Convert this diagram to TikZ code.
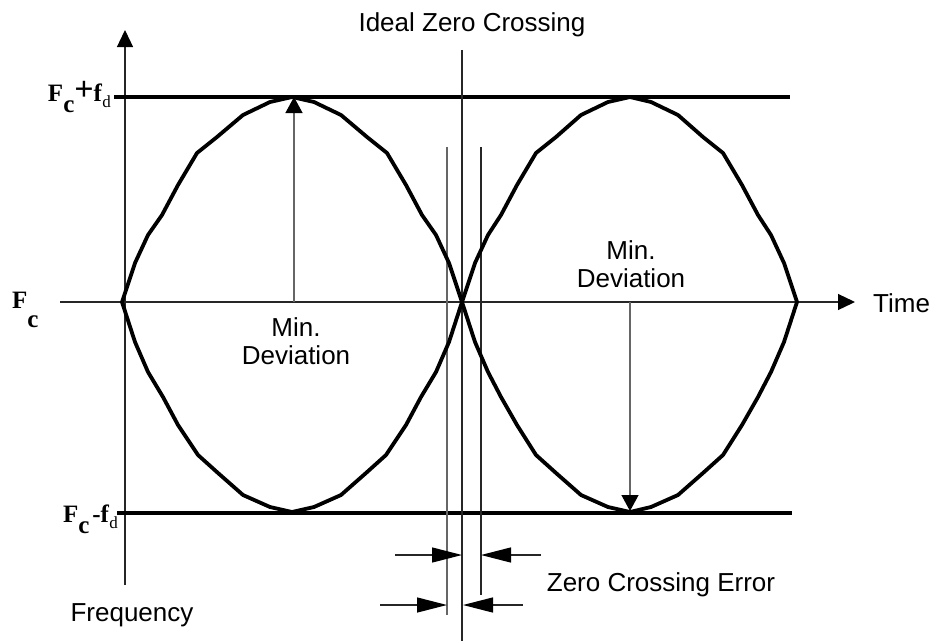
\documentclass[tikz,border=0pt]{standalone}
\usepackage{fontspec}
\setmainfont{Liberation Sans}
\newfontfamily\tnr{Liberation Serif}
\usetikzlibrary{arrows.meta}
\tikzset{
  thinline/.style={line width=1.3pt, black!85},
  grayline/.style={line width=1.3pt, black!60},
  curve/.style={line width=3.8pt, line join=round, line cap=round},
  level/.style={line width=4.6pt},
  axisarrow/.style={-{Triangle[length=17pt,width=16pt,color=black]}},
  devarrow/.style={-{Triangle[length=16pt,width=17pt,color=black]}},
  errarrow/.style={-{Triangle[length=30pt,width=15pt,color=black]}},
  lbl/.style={inner sep=0pt, font=\fontsize{26}{28}\selectfont},
  flbl/.style={inner sep=0pt, font=\tnr\fontsize{25}{25}\selectfont},
}
\newcommand{\subd}{\raisebox{-6pt}{\fontsize{17}{17}\selectfont d}}
\newcommand{\bigplus}{\raisebox{1pt}{\fontsize{34}{34}\selectfont\textbf{+}}}
\begin{document}
\begin{tikzpicture}[x=1pt,y=-1pt]
\useasboundingbox (0,0) rectangle (930,641);
% named points
\coordinate (vbot) at (125,585);
\coordinate (vtop) at (125,30);
\coordinate (hleft) at (60,302);
\coordinate (hright) at (855,302);
\coordinate (topL) at (114,97);
\coordinate (topR) at (790,97);
\coordinate (botL) at (117,513);
\coordinate (botR) at (792,513);
\coordinate (idealTop) at (462,50);
\coordinate (idealBot) at (462,641);
\coordinate (e1Top) at (447,147);
\coordinate (e1Bot) at (447,615);
\coordinate (e2Top) at (481,147);
\coordinate (e2Bot) at (481,595);
\coordinate (ua1) at (395,555); \coordinate (ua1t) at (462,555);
\coordinate (ua2) at (541,555); \coordinate (ua2t) at (481,555);
\coordinate (la1) at (380,605); \coordinate (la1t) at (447,605);
\coordinate (la2) at (523,605); \coordinate (la2t) at (463,605);
\coordinate (d1s) at (294,302); \coordinate (d1t) at (294,97);
\coordinate (d2s) at (630,302); \coordinate (d2t) at (630,511);

% axes
\draw[thinline, axisarrow] (vbot) -- (vtop);
\draw[thinline, axisarrow] (hleft) -- (hright);
% level lines
\draw[level] (topL) -- (topR);
\draw[level] (botL) -- (botR);
% zero crossing lines
\draw[thinline] (idealTop) -- (idealBot);
\draw[grayline] (e1Top) -- (e1Bot);
\draw[thinline] (e2Top) -- (e2Bot);

% eye 1
\draw[curve] (122,302) -- (135,263) -- (148,235) -- (162,215) -- (178,185) -- (197,153) -- (217,137) -- (243,115) -- (270,102) -- (292,97)
  -- (314,102) -- (341,115) -- (367,137) -- (387,153) -- (406,185) -- (422,215) -- (436,235) -- (449,263) -- (462,302)
  -- (449,342) -- (436,372) -- (421,397) -- (406,425) -- (386,455) -- (366,473) -- (341,495) -- (314,507) -- (292,512)
  -- (270,507) -- (243,495) -- (218,473) -- (198,455) -- (178,425) -- (163,397) -- (148,372) -- (135,342) -- cycle;
% eye 2
\draw[curve] (462,302) -- (475,263) -- (488,235) -- (501,215) -- (517,185) -- (536,153) -- (556,137) -- (581,115) -- (608,102) -- (630,97)
  -- (651,102) -- (678,115) -- (703,137) -- (723,153) -- (742,185) -- (758,215) -- (771,235) -- (784,263) -- (797,302)
  -- (784,342) -- (771,372) -- (758,397) -- (742,425) -- (723,455) -- (703,473) -- (678,495) -- (651,507) -- (630,512)
  -- (608,507) -- (581,495) -- (556,473) -- (536,455) -- (517,425) -- (501,397) -- (488,372) -- (475,342) -- cycle;

% deviation arrows
\draw[grayline, devarrow] (d1s) -- (d1t);
\draw[grayline, devarrow] (d2s) -- (d2t);

% error arrows
\draw[thinline, errarrow] (ua1) -- (ua1t);
\draw[thinline, errarrow] (ua2) -- (ua2t);
\draw[thinline, errarrow] (la1) -- (la1t);
\draw[thinline, errarrow] (la2) -- (la2t);

% labels
\node[lbl, anchor=base] (ideal) at (472,31) {Ideal Zero Crossing};
\node[lbl, anchor=base west] (time) at (873,312) {Time};
\node[lbl, anchor=base] (freq) at (132,621) {Frequency};
\node[lbl, anchor=base] (zce) at (661,591) {Zero Crossing Error};
\node[lbl, anchor=base] (min1) at (296,336) {Min.};
\node[lbl, anchor=base] (dev1) at (296,364) {Deviation};
\node[lbl, anchor=base] (min2) at (631,259) {Min.};
\node[lbl, anchor=base] (dev2) at (631,287) {Deviation};

\node[flbl, anchor=base east] (fcfd) at (111,101) {\textbf{F}\raisebox{-11pt}{\textbf{c}}\bigplus\textbf{f}\subd};
\node[flbl, anchor=base west] (fc) at (12,308) {\textbf{F}\raisebox{-19pt}{\textbf{c}}};
\node[flbl, anchor=base east] (fcmfd) at (118,522) {\textbf{F}\raisebox{-11pt}{\textbf{c}}\kern3pt\textbf{-}\textbf{f}\subd};
\end{tikzpicture}
\end{document}
